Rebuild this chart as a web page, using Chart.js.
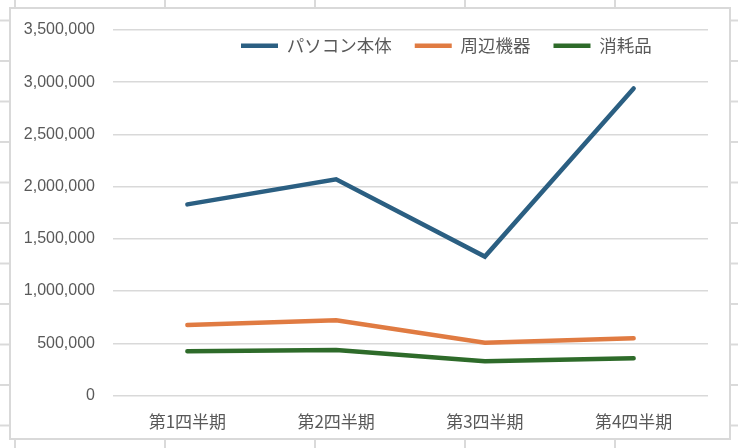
<!DOCTYPE html>
<html>
<head>
<meta charset="utf-8">
<script src="https://cdn.jsdelivr.net/npm/chart.js@4"></script>
<style>
  html, body { margin: 0; padding: 0; }
  body {
    width: 738px; height: 448px; overflow: hidden; position: relative;
    background-color: #fff;
    /* spreadsheet cells behind the chart */
    background-image:
      linear-gradient(to right, #dadada 2px, transparent 2px),
      linear-gradient(to bottom, #dadada 2px, transparent 2px);
    background-size: 150px 100%, 100% 40.5px;
    background-position: 14px 0, 0 19.5px;
  }
  #box {
    position: absolute; left: 9px; top: 7px;
    width: 718px; height: 429px;
    border: 2px solid #d9d9d9; background: #fff;
  }
</style>
</head>
<body>
<div id="box"><canvas id="salesChart"></canvas></div>
<script>
// data
const categories = ["第1四半期", "第2四半期", "第3四半期", "第4四半期"];
const pcBody = [1830000, 2070000, 1330000, 2940000];
const peripherals = [675000, 720000, 505000, 548000];
const consumables = [423000, 436000, 328000, 356000];
const yMin = 0;
const yMax = 3500000;
const yStep = 500000;

const textColor = "#595959";

// legend sits inside the plot in one row, like Excel does
const legendPlace = {
    id: 'legendPlace',
    afterInit(chart) {
        if (chart.legend) chart.legend.isHorizontal = () => true;
    },
    beforeDraw(chart) {
        const lg = chart.legend;
        if (!lg || !lg.lineWidths) return;
        const area = chart.chartArea;
        const pad = lg.options.labels.padding;
        const cx0 = (area.left + pad + area.right - lg.lineWidths[0]) / 2;
        const dx = 230 - cx0;
        lg.left = area.left + dx;
        lg.right = area.right + dx;
        lg.top = 28 - pad;
    }
};

const ctx = document.getElementById('salesChart');
new Chart(ctx, {
    type: 'line',
    data: {
        labels: categories,
        datasets: [
            {
                label: "パソコン本体",
                data: pcBody,
                borderColor: "#2b5f82",
                backgroundColor: "#2b5f82",
                borderWidth: 4.5,
                borderCapStyle: 'round',
                pointRadius: 0,
                tension: 0
            },
            {
                label: "周辺機器",
                data: peripherals,
                borderColor: "#e07b42",
                backgroundColor: "#e07b42",
                borderWidth: 4.5,
                borderCapStyle: 'round',
                pointRadius: 0,
                tension: 0
            },
            {
                label: "消耗品",
                data: consumables,
                borderColor: "#2e6b2a",
                backgroundColor: "#2e6b2a",
                borderWidth: 4.5,
                borderCapStyle: 'round',
                pointRadius: 0,
                tension: 0
            }
        ]
    },
    options: {
        responsive: true,
        maintainAspectRatio: false,
        animation: false,
        layout: { padding: { left: 0, right: 21, top: 21, bottom: 0 } },
        plugins: {
            tooltip: { enabled: false },
            legend: {
                position: 'chartArea',
                align: 'center',
                labels: {
                    usePointStyle: true,
                    pointStyle: 'line',
                    pointStyleWidth: 37,
                    padding: 23,
                    color: textColor,
                    font: { family: "'Noto Sans CJK JP', sans-serif", size: 17.5 }
                }
            }
        },
        scales: {
            x: {
                offset: true,
                grid: { display: false },
                border: { display: false },
                ticks: {
                    color: textColor,
                    padding: 8,
                    maxRotation: 0,
                    font: { family: "'Noto Sans CJK JP', sans-serif", size: 17 }
                },
                afterFit(scale) { scale.height = 42.5; }
            },
            y: {
                min: yMin,
                max: yMax,
                border: { display: false },
                grid: { color: "#d9d9d9", lineWidth: 1.5, drawTicks: false },
                ticks: {
                    stepSize: yStep,
                    padding: 18,
                    color: textColor,
                    font: { family: "'Liberation Sans', Arial, sans-serif", size: 16 },
                    callback: (v) => v.toLocaleString('en-US')
                },
                afterFit(scale) {
                    scale.width = 102;
                    scale.paddingTop = 0;
                    scale.paddingBottom = 0;
                }
            }
        }
    },
    plugins: [legendPlace]
});
</script>
</body>
</html>
